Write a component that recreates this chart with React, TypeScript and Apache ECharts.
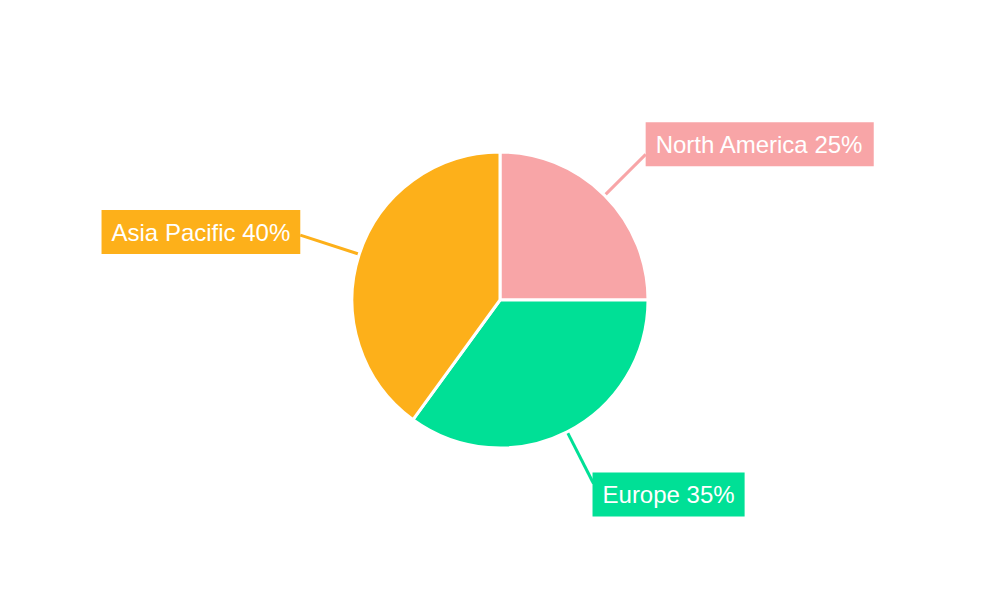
import React, { useEffect, useRef } from "react";
import * as echarts from "echarts";

const regions = ["North America", "Europe", "Asia Pacific"];
const shares = [25, 35, 40];
const colors = ["#F8A5A7", "#00E096", "#FDB01A"];
const lineLengths = [58, 58, 62];
const labelShift = [
  [-5, -10],
  [-6, 11],
  [5, -3],
];

export default function App() {
  const ref = useRef<HTMLDivElement>(null);
  useEffect(() => {
    if (!ref.current) return;
    const chart = echarts.init(ref.current, null, { renderer: "svg" });
    chart.setOption({
      animation: false,
      color: colors,
      series: [
        {
          type: "pie",
          center: [500, 300],
          radius: 148,
          startAngle: 90,
          clockwise: true,
          data: regions.map((name, i) => ({
            name,
            value: shares[i],
            labelLine: { length: lineLengths[i] },
          })),
          itemStyle: { borderColor: "#ffffff", borderWidth: 3 },
          label: {
            show: true,
            position: "outside",
            formatter: "{b} {d}%",
            color: "#ffffff",
            fontSize: 24,
            fontFamily: "Liberation Sans, Arial, sans-serif",
            backgroundColor: "inherit",
            padding: [10, 10],
            lineHeight: 24,
          },
          labelLine: {
            show: true,
            length: 58,
            length2: 0,
            smooth: false,
            lineStyle: { width: 3 },
          },
          labelLayout: (p: any) => ({
            dx: labelShift[p.dataIndex][0],
            dy: labelShift[p.dataIndex][1],
          }),
          emphasis: { disabled: true },
        },
      ],
    });
    return () => chart.dispose();
  }, []);
  return <div ref={ref} style={{ width: 1000, height: 600, position: "absolute", left: 0, top: 0 }} />;
}
